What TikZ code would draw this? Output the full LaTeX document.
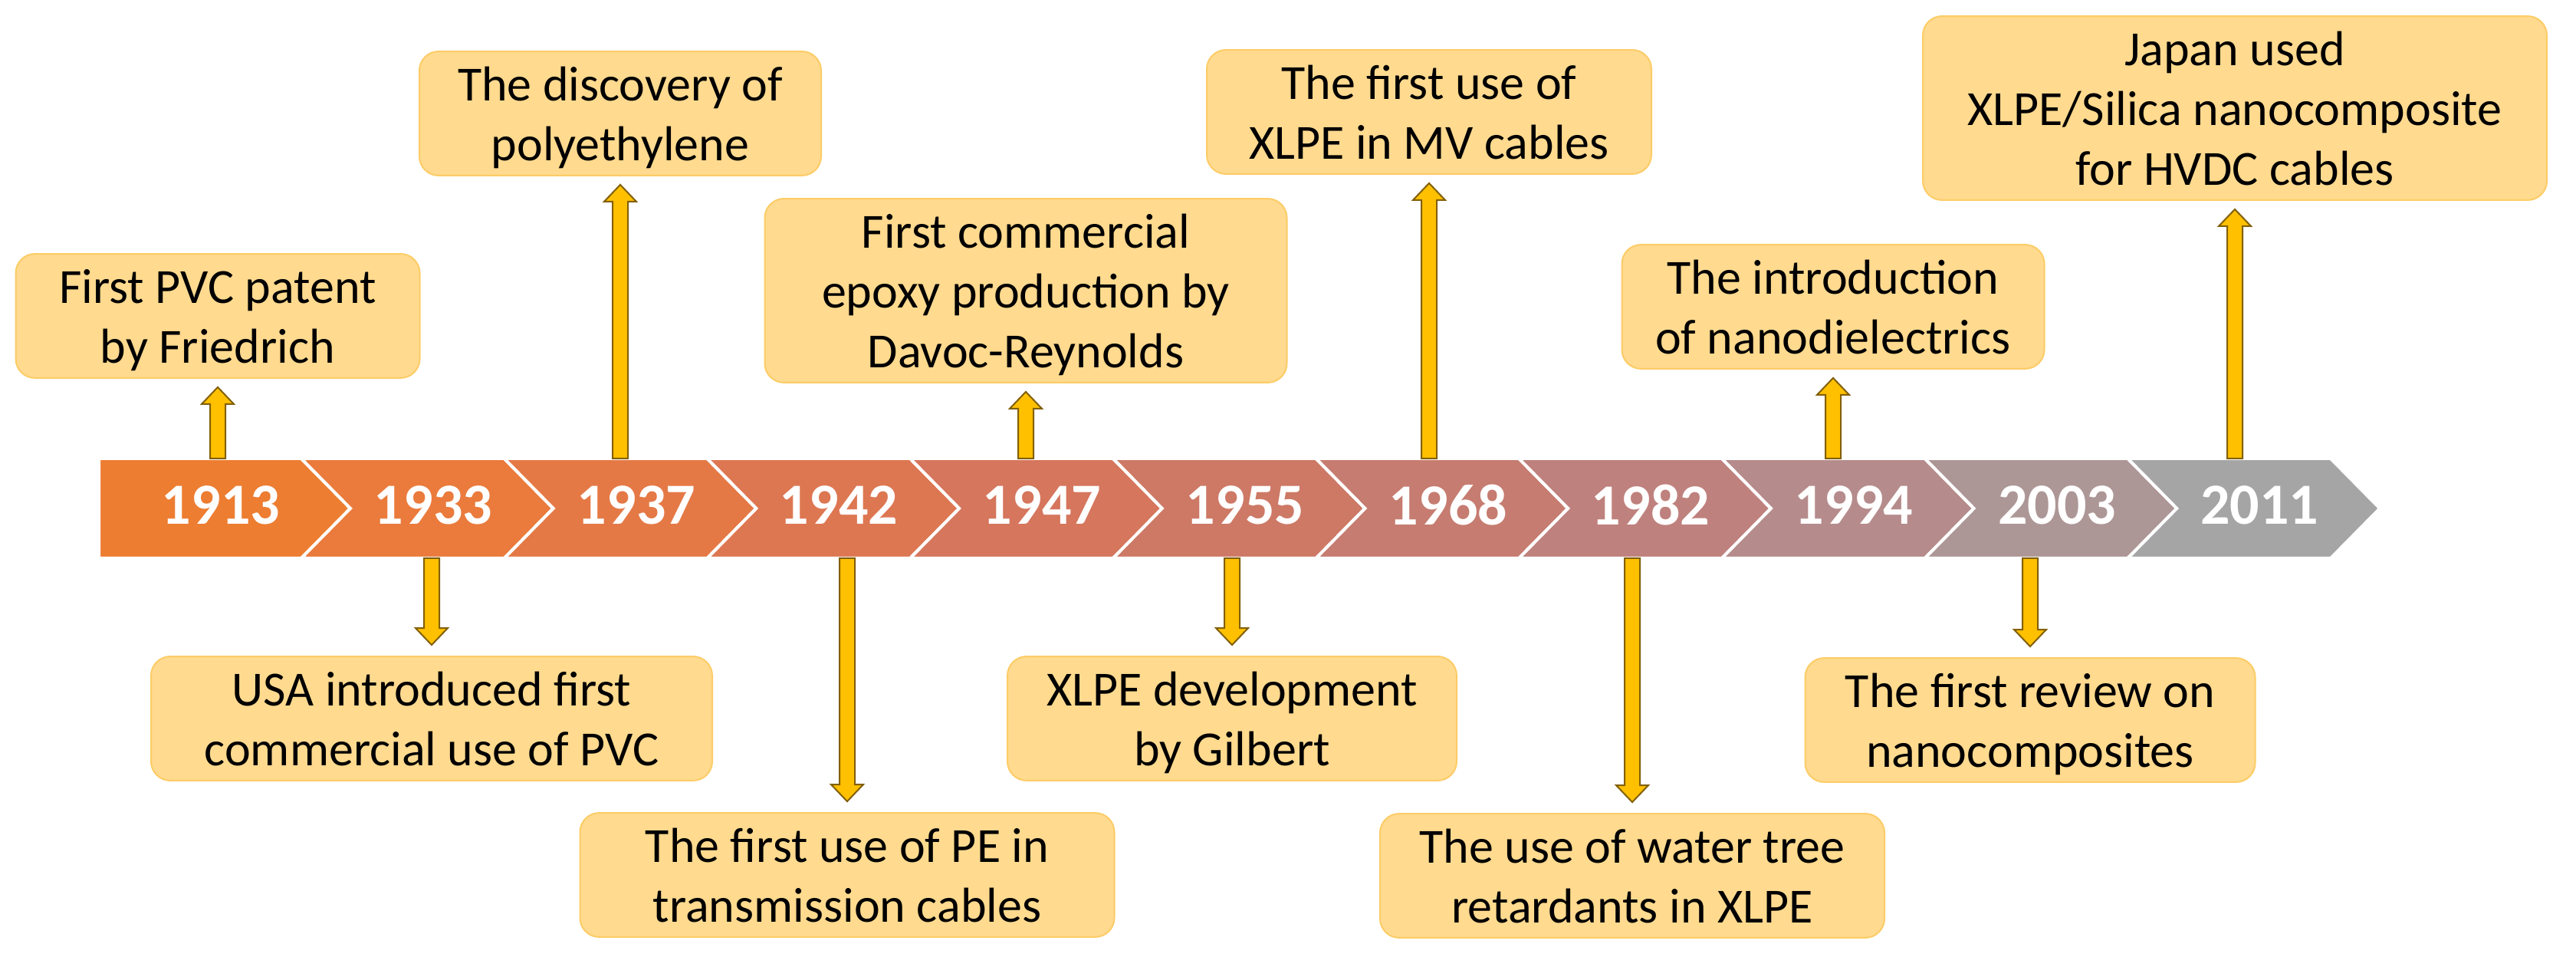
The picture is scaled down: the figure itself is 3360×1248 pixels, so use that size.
\documentclass[tikz,border=0pt]{standalone}
\usepackage{fontspec}
\setmainfont{Carlito}
\usetikzlibrary{calc}
\definecolor{seg1}{RGB}{237,125,49}
\definecolor{seg2}{RGB}{234,123,60}
\definecolor{seg3}{RGB}{229,121,70}
\definecolor{seg4}{RGB}{221,119,82}
\definecolor{seg5}{RGB}{213,118,93}
\definecolor{seg6}{RGB}{205,121,102}
\definecolor{seg7}{RGB}{198,124,112}
\definecolor{seg8}{RGB}{191,129,125}
\definecolor{seg9}{RGB}{181,139,139}
\definecolor{seg10}{RGB}{173,151,150}
\definecolor{seg11}{RGB}{165,165,165}
\definecolor{boxfill}{RGB}{255,218,143}
\definecolor{boxedge}{RGB}{252,204,102}
\definecolor{arrfill}{RGB}{255,192,0}
\definecolor{arredge}{RGB}{130,96,10}
\newcommand\blockarrow[3]{%
  \filldraw[arrowstyle] ($(#1)+(-10,0)$) -- ($(#2)+(-10,#3*22)$) -- ($(#2)+(-21,#3*22)$) -- (#2)
    -- ($(#2)+(21,#3*22)$) -- ($(#2)+(10,#3*22)$) -- ($(#1)+(10,0)$) -- cycle;}
\newcommand\toprule{\rule{0pt}{1em}}
\newcommand\botrule{\rule[-0.31em]{0pt}{0.31em}}
\begin{document}
\begin{tikzpicture}[x=0.25pt,y=-0.25pt,
  event/.style={rectangle, rounded corners=6.25pt, fill=boxfill, draw=boxedge,
    line width=0.5pt, inner sep=0pt, align=center, text=black,
    font=\fontsize{16pt}{19.5pt}\selectfont},
  year/.style={inner sep=0pt, text=white, font=\fontsize{19pt}{22pt}\selectfont\bfseries},
  segstyle/.style={draw=white, line width=1pt, line join=miter},
  arrowstyle/.style={fill=arrfill, draw=arredge, line width=0.5pt, line join=miter}]
\fill[white] (0,0) rectangle (3360,1248);
\useasboundingbox (0,0) rectangle (3360,1248);
\coordinate (bandtop) at (0,598);
\coordinate (bandbot) at (0,728);
% band
\fill[seg1, segstyle] (129,598) -- (393,598) -- (457,663) -- (393,728) -- (129,728) -- cycle;
\foreach \k in {2,...,11}{
  \pgfmathsetmacro\L{393+264.7*(\k-2)}
  \pgfmathsetmacro\R{\L+264.7}
  \fill[seg\k, segstyle] (\L,598) -- (\R,598) -- (\R+64,663) -- (\R,728) -- (\L,728) -- (\L+64,663) -- cycle;
}
% years
\node[year] (y1) at (288,659) {1913};
\node[year] (y2) at (565,659) {1933};
\node[year] (y3) at (830,659) {1937};
\node[year] (y4) at (1094,659) {1942};
\node[year] (y5) at (1359,659) {1947};
\node[year] (y6) at (1624,659) {1955};
\node[year] (y7) at (1889,659) {1968};
\node[year] (y8) at (2153,659) {1982};
\node[year] (y9) at (2418,659) {1994};
\node[year] (y10) at (2683,659) {2003};
\node[year] (y11) at (2947,659) {2011};
% boxes
\node[event, minimum width=527*0.25pt, minimum height=151*0.25pt] (b1) at (284,412)
  {\toprule First PVC patent\\by Friedrich\botrule};
\node[event, minimum width=732*0.25pt, minimum height=152*0.25pt] (b2) at (563,937)
  {\toprule USA introduced first\\commercial use of PVC\botrule};
\node[event, minimum width=524*0.25pt, minimum height=151*0.25pt] (b3) at (809,148)
  {\toprule The discovery of\\polyethylene\botrule};
\node[event, minimum width=697*0.25pt, minimum height=152*0.25pt] (b4) at (1105,1141)
  {\toprule The first use of PE in\\transmission cables\botrule};
\node[event, minimum width=681*0.25pt, minimum height=226*0.25pt] (b5) at (1338,379)
  {\toprule First commercial\\epoxy production by\\Davoc-Reynolds\botrule};
\node[event, minimum width=586*0.25pt, minimum height=152*0.25pt] (b6) at (1607,937)
  {\toprule XLPE development\\by Gilbert\botrule};
\node[event, minimum width=580*0.25pt, minimum height=150*0.25pt] (b7) at (1864,146)
  {\toprule The first use of\\XLPE in MV cables\botrule};
\node[event, minimum width=658*0.25pt, minimum height=155*0.25pt] (b8) at (2129,1142)
  {\toprule The use of water tree\\retardants in XLPE\botrule};
\node[event, minimum width=551*0.25pt, minimum height=151*0.25pt] (b9) at (2391,400)
  {\toprule The introduction\\of nanodielectrics\botrule};
\node[event, minimum width=587*0.25pt, minimum height=152*0.25pt] (b10) at (2648,939)
  {\toprule The first review on\\nanocomposites\botrule};
\node[event, minimum width=814*0.25pt, minimum height=237*0.25pt] (b11) at (2915,141)
  {\toprule Japan used\\XLPE/Silica nanocomposite\\for HVDC cables\botrule};
% connectors
\foreach \i in {1,3,5,7,9,11}{
  \coordinate (s\i) at (b\i.south |- bandtop);
  \coordinate (t\i) at ($(b\i.south)+(0,11)$);
  \blockarrow{s\i}{t\i}{1}
}
\foreach \i in {2,4,6,8,10}{
  \coordinate (s\i) at (b\i.north |- bandbot);
  \coordinate (t\i) at ($(b\i.north)+(0,-14)$);
  \blockarrow{s\i}{t\i}{-1}
}
\end{tikzpicture}
\end{document}
